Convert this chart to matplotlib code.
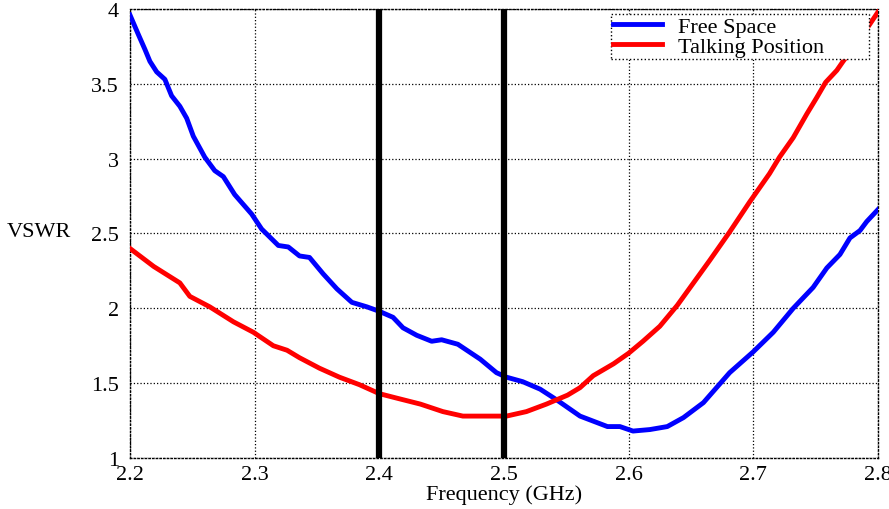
import matplotlib.pyplot as plt

# VSWR vs frequency
free_freq = [2.200, 2.2067, 2.212, 2.216, 2.2214, 2.228, 2.2334, 2.240, 2.2455, 2.2508,
             2.260, 2.268, 2.2749, 2.284, 2.2976, 2.3056, 2.319, 2.327, 2.336, 2.344,
             2.355, 2.366, 2.378, 2.390, 2.400, 2.411, 2.419, 2.430, 2.442, 2.450,
             2.463, 2.481, 2.494, 2.502, 2.515, 2.529, 2.542, 2.561, 2.583, 2.593,
             2.6035, 2.617, 2.631, 2.644, 2.660, 2.681, 2.700, 2.716, 2.732, 2.748,
             2.759, 2.7695, 2.7775, 2.7856, 2.791, 2.800]
free_vswr = [3.96, 3.83, 3.73, 3.65, 3.58, 3.53, 3.42, 3.35, 3.27, 3.15,
             3.01, 2.92, 2.88, 2.76, 2.63, 2.53, 2.42, 2.41, 2.35, 2.34,
             2.23, 2.13, 2.04, 2.01, 1.98, 1.94, 1.87, 1.82, 1.78, 1.79,
             1.76, 1.66, 1.57, 1.54, 1.51, 1.46, 1.39, 1.28, 1.21, 1.21,
             1.18, 1.19, 1.21, 1.27, 1.37, 1.57, 1.71, 1.84, 2.00, 2.14,
             2.27, 2.36, 2.47, 2.52, 2.58, 2.66]

talk_freq = [2.200, 2.219, 2.240, 2.248, 2.264, 2.283, 2.299, 2.315, 2.326, 2.336,
             2.352, 2.368, 2.384, 2.400, 2.414, 2.433, 2.451, 2.467, 2.481, 2.502,
             2.518, 2.534, 2.551, 2.561, 2.5716, 2.588, 2.600, 2.6115, 2.625, 2.639,
             2.652, 2.665, 2.681, 2.697, 2.713, 2.721, 2.732, 2.743, 2.751, 2.758,
             2.767, 2.772, 2.782, 2.7936, 2.800]
talk_vswr = [2.40, 2.28, 2.17, 2.08, 2.01, 1.91, 1.84, 1.75, 1.72, 1.67,
             1.60, 1.54, 1.49, 1.43, 1.40, 1.36, 1.31, 1.28, 1.28, 1.28,
             1.31, 1.36, 1.42, 1.47, 1.55, 1.63, 1.70, 1.78, 1.88, 2.02,
             2.17, 2.32, 2.51, 2.71, 2.90, 3.01, 3.14, 3.30, 3.41, 3.51,
             3.59, 3.65, 3.76, 3.90, 3.98]

band_edges = [2.4, 2.5]
x_ticks = [2.2, 2.3, 2.4, 2.5, 2.6, 2.7, 2.8]
y_ticks = [1, 1.5, 2, 2.5, 3, 3.5, 4]

plt.rcParams['font.family'] = ['Liberation Serif', 'DejaVu Serif']
plt.rcParams['font.size'] = 16

fig = plt.figure(figsize=(8.89, 5.10), dpi=100)
ax = fig.add_axes([0.1462, 0.10, 0.8414, 0.8804])

ax.plot(free_freq, free_vswr, color='#0000ff', lw=3.5, label='Free Space', zorder=3)
ax.plot(talk_freq, talk_vswr, color='#ff0000', lw=3.5, label='Talking Position', zorder=3)
for xb in band_edges:
    ax.axvline(xb, color='black', lw=4.5, zorder=4)

ax.set_xlim(2.2, 2.8)
ax.set_ylim(1, 4)
ax.set_xticks(x_ticks)
ax.set_xticklabels([f'{v:g}' for v in x_ticks])
ax.set_yticks(y_ticks)
ax.set_yticklabels([f'{v:g}' for v in y_ticks])
ax.tick_params(axis='x', length=0, pad=5)
ax.tick_params(axis='y', length=0, pad=8)
ax.grid(True, color='black', linestyle=':', lw=0.9)

for sp in ax.spines.values():
    sp.set_linestyle(':')
    sp.set_linewidth(1.0)

ax.set_xlabel('Frequency (GHz)', labelpad=0)
ax.set_ylabel('VSWR', rotation=0, ha='left', va='center')
ax.yaxis.set_label_coords(-0.165, 0.505)

# legend box stretched to the reference's width
leg = ax.legend(loc='upper left', bbox_to_anchor=(0.643, 0.884, 0.345, 0.105),
                mode='expand', borderaxespad=0,
                fancybox=False, framealpha=1, edgecolor='black', handlelength=2.2,
                labelspacing=0.0, borderpad=0.1, handletextpad=0.7, fontsize=16)
leg.get_frame().set_linestyle(':')
leg.get_frame().set_linewidth(1.0)
leg.set_zorder(5)

fig.savefig('out.png', dpi=100)
